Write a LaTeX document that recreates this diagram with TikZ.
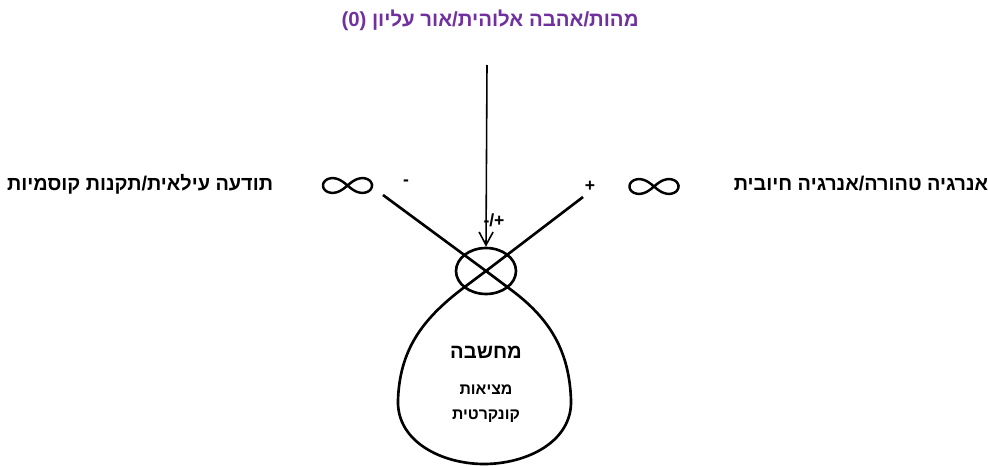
\documentclass[tikz,border=0pt]{standalone}
\usepackage{fontspec}
\usepackage{tikz}
\usetikzlibrary{arrows.meta,positioning,shapes.geometric}
\TeXXeTstate=1
\newfontfamily\hebfont[Script=Hebrew]{Liberation Sans}
\newfontfamily\latinfont{Liberation Sans}
\definecolor{ink}{HTML}{000000}
\definecolor{essence}{HTML}{7030A0}
\tikzset{
  heblabel/.style={font=\hebfont\bfseries\fontsize{11.3}{13}\selectfont, text=ink, inner sep=1pt},
  signlabel/.style={font=\latinfont\bfseries\fontsize{10}{12}\selectfont, text=ink, inner sep=1pt},
  infcurve/.style={line width=1.4pt, draw=ink},
  strand/.style={line width=1.5pt, draw=ink, line join=round},
  hubring/.style={draw=ink, ellipse, line width=1.5pt, minimum width=1.2cm,
                  minimum height=0.92cm, inner sep=0pt},
  downarrow/.style={-{Straight Barb[length=2.6mm,width=2.8mm]}, line width=0.9pt, draw=ink}
}
% lemniscate drawn round a named coordinate
\newcommand\lemni[1]{%
  \draw[infcurve,shift={(#1)}] plot[domain=0:360,samples=90,smooth cycle]
    ({24.5*cos(\x)/(1+sin(\x)^2)},{0.85*24.5*sin(\x)*cos(\x)/(1+sin(\x)^2)});}

\begin{document}
\begin{tikzpicture}[x=0.02cm,y=-0.02cm]
  \useasboundingbox (0,0) rectangle (988,466);

  % top source
  \node[heblabel,text=essence,font=\hebfont\bfseries\fontsize{11.6}{13}\selectfont] (essence) at (490,20)
    {\beginR מהות/אהבה אלוהית/אור עליון \beginL(0)\endL\endR};
  \coordinate (src) at (487,65);

  % crossing point and ring
  \coordinate (cross) at (486,271);
  \node[hubring] (hub) at (cross) {};
  \draw[downarrow] (src) -- (hub.north);
  \node[signlabel] (mixsign) at (494,220) {-/+};

  % the two strands and the loop
  \coordinate (lend) at (383,195);
  \coordinate (rend) at (583,197);
  \coordinate (lowr) at (510,289);
  \coordinate (lowl) at (462,289);
  \coordinate (sider) at (571,400);
  \coordinate (sidel) at (398,400);
  \coordinate (bottom) at (484,464);
  \draw[strand] (lend) -- (cross) -- (lowr)
    to[out=-36.4,in=92] (sider) to[out=-88,in=0] (bottom)
    to[out=180,in=-92] (sidel) to[out=88,in=-142.6] (lowl)
    -- (cross) -- (rend);

  % side signs and infinities
  \node[signlabel] (minus) at (406,183) {-};
  \node[signlabel] (plus) at (590,186) {+};
  \coordinate (infl) at (347.5,185.5);
  \coordinate (infr) at (654,186.5);
  \lemni{infl}
  \lemni{infr}

  \node[heblabel] (conscious) at (140,184)
    {\beginR תודעה עילאית/תקנות קוסמיות\endR};
  \node[heblabel] (energy) at (861,184)
    {\beginR אנרגיה טהורה/אנרגיה חיובית\endR};

  % inside the loop
  \node[heblabel,font=\hebfont\bfseries\fontsize{11.5}{14}\selectfont] (thought) at (486,352)
    {\beginR מחשבה\endR};
  \node[heblabel,font=\hebfont\bfseries\fontsize{9}{14.2}\selectfont,align=center] (reality) at (486,404)
    {\beginR מציאות\endR\\\beginR קונקרטית\endR};
\end{tikzpicture}
\end{document}
